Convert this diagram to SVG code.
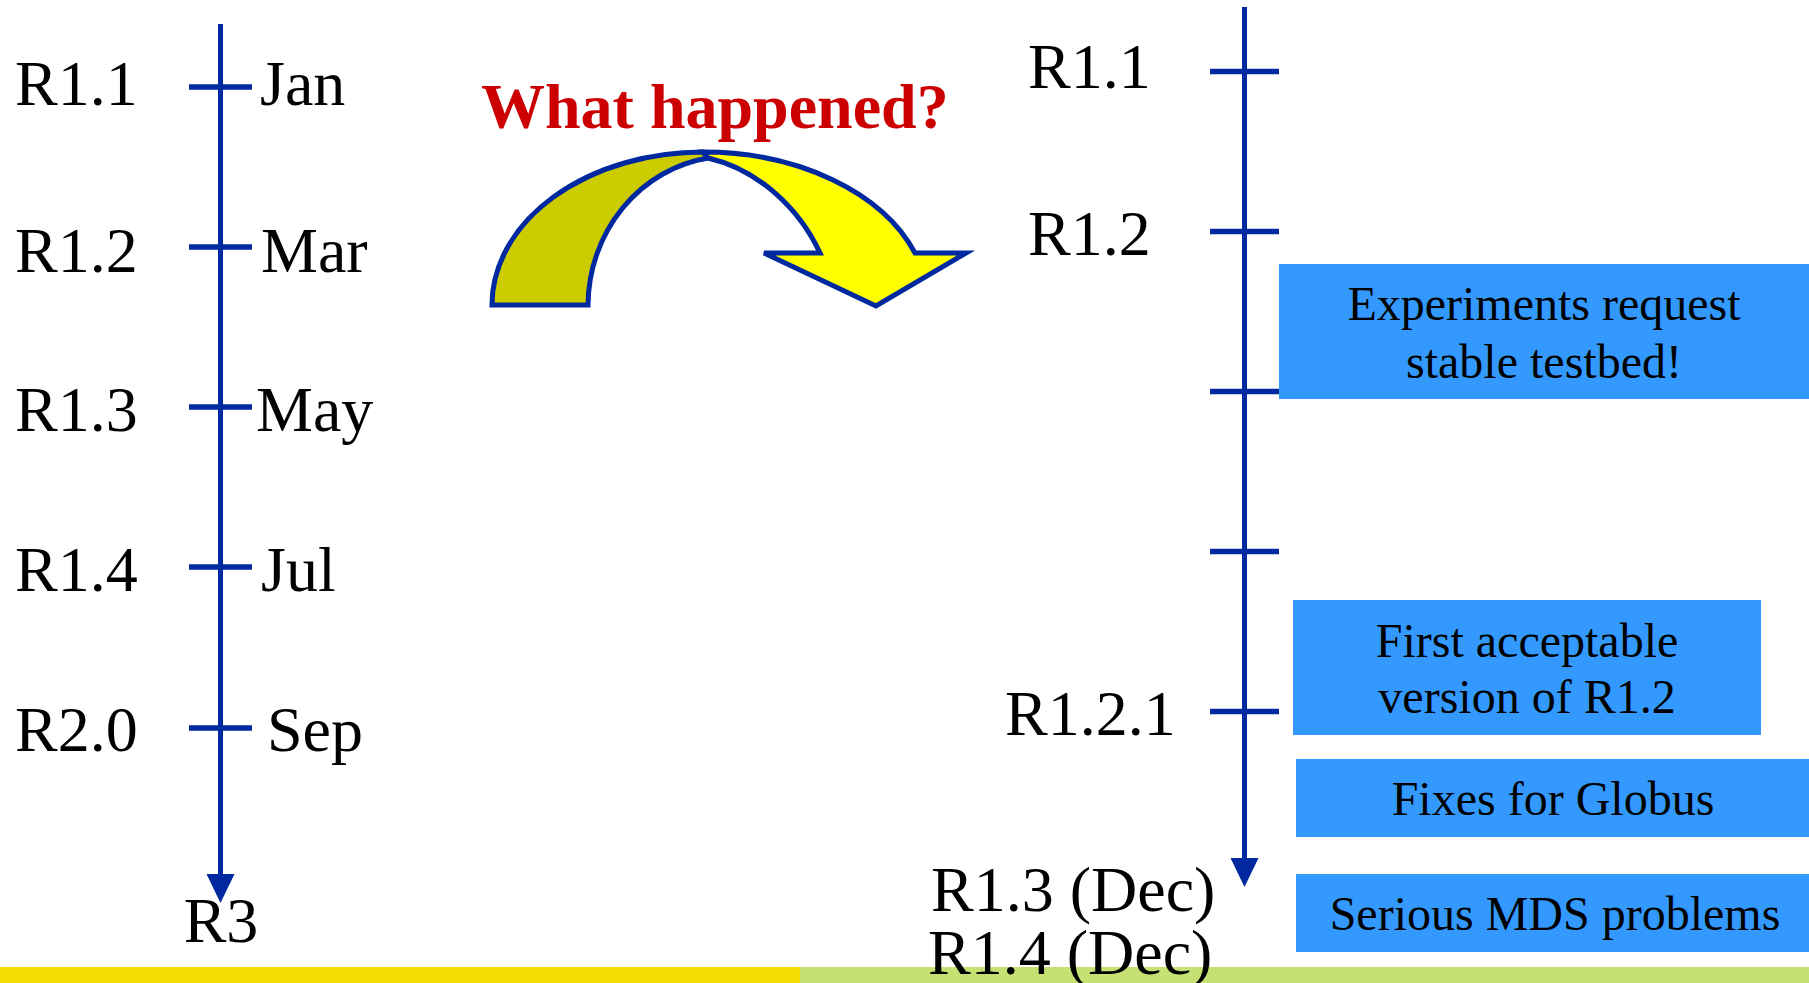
<svg xmlns="http://www.w3.org/2000/svg" width="1809" height="983" viewBox="0 0 1809 983">
<style>
.lbl{font-family:"Liberation Serif","Times New Roman",serif;font-size:64px;fill:#000}
.box{fill:#3399FF}
.bt{font-family:"Liberation Serif","Times New Roman",serif;font-size:48px;fill:#000;text-anchor:middle}
.axis{stroke:#0029A0;stroke-width:5;fill:none}
.tick{stroke:#0029A0;stroke-width:5.5}
.title{font-family:"Liberation Serif","Times New Roman",serif;font-size:64px;font-weight:bold;fill:#CC0000}
.ar{stroke:#0029A0;stroke-width:5;stroke-linejoin:miter}
</style>
<defs>
<marker id="ah" markerUnits="userSpaceOnUse" markerWidth="30" markerHeight="30" refX="2" refY="14" orient="auto">
<path d="M0,0 L29,14 L0,28 z" fill="#0029A0"/>
</marker>
</defs>
<rect width="1809" height="983" fill="#FFFFFF"/>
<g id="footer">
<rect x="0" y="967" width="800" height="16" fill="#F5DC00"/>
<rect x="800" y="967" width="1009" height="16" fill="#C5E073"/>
</g>
<g id="connectors">
<line class="axis" x1="220.5" y1="24" x2="220.5" y2="876" marker-end="url(#ah)"/>
<line class="tick" x1="189" y1="87" x2="252" y2="87"/>
<line class="tick" x1="189" y1="247" x2="252" y2="247"/>
<line class="tick" x1="189" y1="407" x2="252" y2="407"/>
<line class="tick" x1="189" y1="567" x2="252" y2="567"/>
<line class="tick" x1="189" y1="728" x2="252" y2="728"/>
<line class="axis" x1="1244.5" y1="7" x2="1244.5" y2="860" marker-end="url(#ah)"/>
<line class="tick" x1="1210" y1="71.5" x2="1279" y2="71.5"/>
<line class="tick" x1="1210" y1="231.5" x2="1279" y2="231.5"/>
<line class="tick" x1="1210" y1="391.5" x2="1279" y2="391.5"/>
<line class="tick" x1="1210" y1="551.5" x2="1279" y2="551.5"/>
<line class="tick" x1="1210" y1="711.5" x2="1279" y2="711.5"/>
</g>
<g id="left-labels">
<text class="lbl" x="15" y="105">R1.1</text>
<text class="lbl" x="15" y="272">R1.2</text>
<text class="lbl" x="15" y="431">R1.3</text>
<text class="lbl" x="15" y="591">R1.4</text>
<text class="lbl" x="15" y="751">R2.0</text>
<text class="lbl" x="221" y="942" text-anchor="middle">R3</text>
</g>
<g id="months">
<text class="lbl" x="260" y="105">Jan</text>
<text class="lbl" x="261" y="272">Mar</text>
<text class="lbl" x="256" y="431">May</text>
<text class="lbl" x="261" y="591">Jul</text>
<text class="lbl" x="267" y="751">Sep</text>
</g>
<g id="title">
<text class="title" x="481" y="128">What happened?</text>
</g>
<g id="curved-arrow">
<path class="ar" fill="#CCCC00" d="M492,305 A211,153 0 0 1 703,152 L708,158 A142,150 0 0 0 588,305 Z"/>
<path class="ar" fill="#FFFF00" d="M703,152 A225,153 0 0 1 915,253 L966,253 L876,306 L764,253 L820,253 C800,210 760,170 708,158 Z"/>
</g>
<g id="right-labels">
<text class="lbl" x="1028" y="88">R1.1</text>
<text class="lbl" x="1028" y="255">R1.2</text>
<text class="lbl" x="1005" y="735">R1.2.1</text>
<text class="lbl" x="931" y="911">R1.3 (Dec)</text>
<text class="lbl" x="928" y="974">R1.4 (Dec)</text>
</g>
<g id="box-experiments">
<rect class="box" x="1279" y="264" width="530" height="135"/>
<text class="bt" x="1544" y="320">Experiments request</text>
<text class="bt" x="1544" y="378">stable testbed!</text>
</g>
<g id="box-first">
<rect class="box" x="1293" y="600" width="468" height="135"/>
<text class="bt" x="1527" y="657">First acceptable</text>
<text class="bt" x="1527" y="713">version of R1.2</text>
</g>
<g id="box-fixes">
<rect class="box" x="1296" y="759" width="513" height="78"/>
<text class="bt" x="1553" y="815">Fixes for Globus</text>
</g>
<g id="box-mds">
<rect class="box" x="1296" y="874" width="513" height="78"/>
<text class="bt" x="1555" y="930">Serious MDS problems</text>
</g>
</svg>
